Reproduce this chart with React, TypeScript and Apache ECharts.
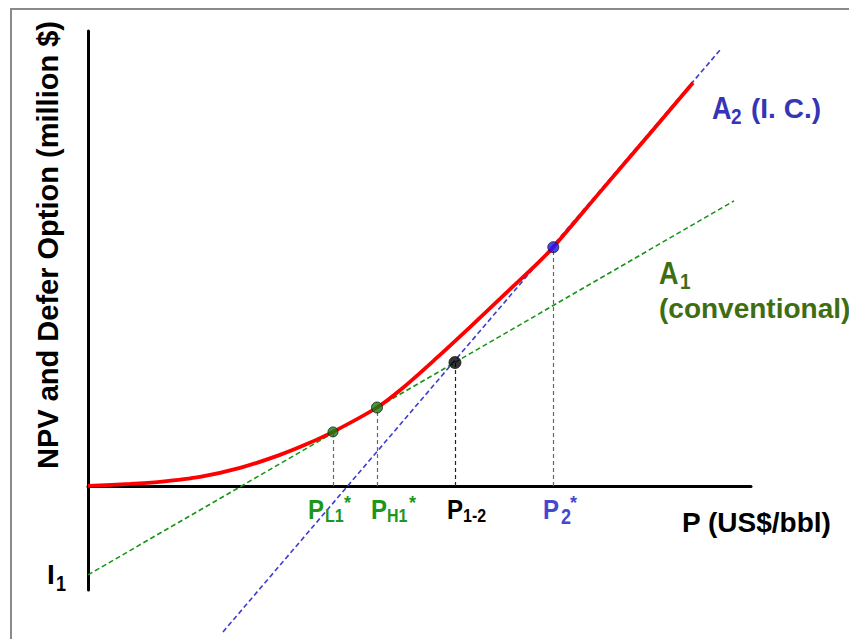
import React, { useEffect, useRef } from 'react';
import * as echarts from 'echarts';

// Red NPV + defer option curve (price, value)
const curveNPV: [number, number][] = [
  [0, 0], [6.33, 0.3], [10.86, 0.62], [16.89, 1.36], [22.93, 2.71], [28.96, 4.68],
  [33.0, 6.3], [36.95, 8.14], [43.59, 11.82], [47.56, 14.85], [52.59, 19.3],
  [57.62, 23.95], [62.64, 28.7], [67.68, 33.45], [70.18, 36.0], [77.22, 44.3],
  [84.77, 53.15], [91.25, 60.8],
];
// Alternative A1 (conventional) NPV line
const lineA1: [number, number][] = [[0, -13.42], [97.44, 42.99]];
// Alternative A2 (I. C.) NPV line
const lineA2: [number, number][] = [[20.36, -22.02], [95.48, 65.91]];
// Key points
const pointNames = ['PL1*', 'PH1*', 'P1-2', 'P2*'];
const pointX = [36.95, 43.59, 55.35, 70.18];
const pointY = [8.14, 11.82, 18.6, 36.0];
const pointColors = ['#0f7d0f', '#0f7d0f', '#000000', '#1414ff'];
const pointSizes = [10, 11, 12, 11];
const dropColors = ['#666666', '#666666', '#222222', '#666666'];

const FONT = '"Liberation Sans", Arial, sans-serif';

function txt(text: string, x: number, y: number, size: number, fill: string, extra: any = {}) {
  const align = extra.align || 'left';
  const rest = { ...extra };
  delete rest.align;
  return {
    type: 'text',
    x,
    y,
    silent: true,
    z: 10,
    ...rest,
    style: {
      text,
      fill,
      fontSize: size,
      fontWeight: 'bold',
      fontFamily: FONT,
      align,
      textAlign: align,
      verticalAlign: 'middle',
      textVerticalAlign: 'middle',
    },
  };
}

export default function App() {
  const ref = useRef<HTMLDivElement>(null);
  useEffect(() => {
    if (!ref.current) return;
    const chart = echarts.init(ref.current, undefined, { renderer: 'svg' });
    const green = '#1d961d';
    const blue = '#4646cf';
    const sy = { scaleY: 1.18 };
    chart.setOption({
      animation: false,
      backgroundColor: 'transparent',
      grid: { left: 88, top: 31, width: 663, height: 559 },
      xAxis: {
        type: 'value', min: 0, max: 100,
        axisLine: { show: true, onZero: true, lineStyle: { color: '#000', width: 3 } },
        axisTick: { show: false }, axisLabel: { show: false }, splitLine: { show: false },
      },
      yAxis: {
        type: 'value', min: -15.7, max: 68.6,
        axisLine: { show: true, onZero: false, lineStyle: { color: '#000', width: 3 } },
        axisTick: { show: false }, axisLabel: { show: false }, splitLine: { show: false },
      },
      series: [
        {
          type: 'line', data: lineA1, symbol: 'none', z: 3,
          lineStyle: { color: '#179417', width: 1.6, type: [5, 3] },
        },
        {
          type: 'line', data: lineA2, symbol: 'none', clip: false, z: 3,
          lineStyle: { color: '#3c3cd0', width: 1.6, type: [5, 3] },
        },
        {
          type: 'line', data: curveNPV, symbol: 'none', smooth: 0.3, z: 4,
          lineStyle: { color: '#ff0000', width: 3.8 },
        },
        {
          type: 'scatter', z: 5,
          data: pointX.map((x, i) => ({
            value: [x, pointY[i]], name: pointNames[i],
            symbolSize: pointSizes[i],
            itemStyle: { color: pointColors[i], borderColor: '#1a1a1a', borderWidth: 1 },
          })),
          markLine: {
            silent: true, symbol: 'none', label: { show: false }, z: 2,
            data: pointX.map((x, i) => [
              { coord: [x, 0], lineStyle: { color: dropColors[i], width: 1.2, type: [4, 3] } },
              { coord: [x, pointY[i]] },
            ]),
          },
        },
      ],
      graphic: [
        txt('NPV and Defer Option (million $)', 48, 245, 29, '#000', { rotation: Math.PI / 2, align: 'center' }),
        // I1
        txt('I', 47, 574, 28, '#000'),
        txt('1', 56, 583, 18, '#000', sy),
        // x labels
        txt('P', 308, 509, 24, green, sy), txt('L1', 325, 516, 16, green, sy), txt('*', 344, 503, 18, green),
        txt('P', 371, 509, 24, green, sy), txt('H1', 387, 516, 16, green, sy), txt('*', 409, 503, 18, green),
        txt('P', 447, 509, 24, '#000', sy), txt('1-2', 463, 516, 16, '#000', sy),
        txt('P', 543, 509, 24, blue, sy), txt('2', 561, 516, 18, blue, sy), txt('*', 570, 503, 18, blue),
        txt('P (US$/bbl)', 682, 522, 28, '#000'),
        // A2
        txt('A', 712, 108, 27, '#3535b5', sy), txt('2', 731, 116, 19, '#3535b5', sy), txt('(I. C.)', 751, 108, 28, '#3535b5'),
        // A1
        txt('A', 659, 273, 27, '#3f6d12', sy), txt('1', 680, 281, 19, '#3f6d12', sy),
        txt('(conventional)', 659, 308, 28, '#3f6d12'),
      ],
    });
    return () => chart.dispose();
  }, []);
  return (
    <div style={{ position: 'fixed', left: 0, top: 0, width: 849, height: 639, overflow: 'hidden', background: '#ffffff' }}>
      <div style={{ position: 'absolute', left: 10, top: 8, width: 900, height: 700, borderLeft: '2px solid #8a8a8a', borderTop: '2px solid #8a8a8a' }} />
      <div ref={ref} style={{ position: 'absolute', left: 0, top: 0, width: 849, height: 639 }} />
    </div>
  );
}
